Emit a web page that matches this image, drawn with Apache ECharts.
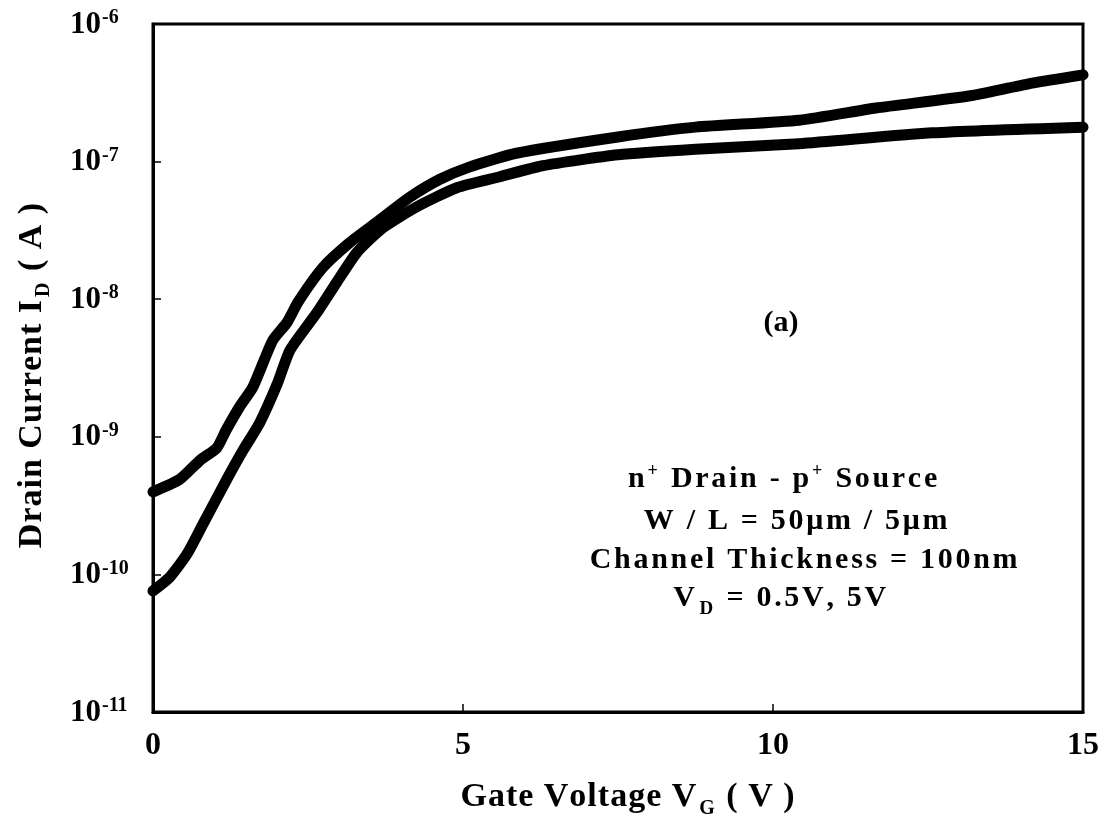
<!DOCTYPE html>
<html>
<head>
<meta charset="utf-8">
<script src="https://cdn.jsdelivr.net/npm/echarts@6/dist/echarts.min.js"></script>
<style>
  html, body { margin: 0; padding: 0; background: #fff; }
  #chart { width: 1108px; height: 821px; }
</style>
</head>
<body>
<div id="chart"></div>
<script>
// gate voltage (V) and drain current (A)
const vgHigh = [0, 0.43, 0.76, 1.03, 1.18, 1.40, 1.61, 1.93, 2.16, 2.34, 2.74, 3.17, 3.61, 4.14, 4.62, 5.10, 5.86, 7.5, 8.75, 10.42, 11.66, 13.21, 14.18, 15]
const idHigh = [3.98e-10, 4.90e-10, 6.76e-10, 8.32e-10, 1.12e-9, 1.66e-9, 2.29e-9, 5.01e-9, 6.76e-9, 9.55e-9, 1.70e-8, 2.57e-8, 3.63e-8, 5.50e-8, 7.41e-8, 9.12e-8, 1.15e-7, 1.51e-7, 1.78e-7, 2.00e-7, 2.45e-7, 3.02e-7, 3.72e-7, 4.27e-7]

const vgLow = [0, 0.27, 0.55, 0.81, 1.19, 1.45, 1.72, 2.0, 2.21, 2.64, 2.96, 3.29, 3.71, 4.25, 4.90, 5.59, 6.28, 7.5, 8.75, 10.42, 12.57, 15]
const idLow = [7.59e-11, 9.55e-11, 1.41e-10, 2.34e-10, 4.90e-10, 7.94e-10, 1.26e-9, 2.40e-9, 4.27e-9, 7.94e-9, 1.32e-8, 2.19e-8, 3.31e-8, 4.68e-8, 6.46e-8, 7.76e-8, 9.33e-8, 1.12e-7, 1.23e-7, 1.35e-7, 1.62e-7, 1.78e-7]

const xTicks = [0, 5, 10, 15]
const yRange = [1e-11, 1e-6]

const FONT = '"Liberation Serif", "Times New Roman", serif'
const pair = (xs, ys) => xs.map((x, i) => [x, ys[i]])
// rich text has no letter-spacing, so every char gets its own token with a bit of padding
const spaced = (s, tok) => s.split('').map((ch) => '{' + tok + '|' + ch + '}').join('')

const chart = echarts.init(document.getElementById('chart'), null, { renderer: 'canvas' })

const curveStyle = {
  type: 'line',
  showSymbol: false,
  clip: false,
  smooth: 0.2,
  lineStyle: { color: '#000', width: 11, cap: 'round', join: 'round' },
  itemStyle: { color: '#000' },
}

const txt = (x, y, text, rich, extra = {}) => ({
  type: 'text',
  x,
  y,
  ...extra,
  style: {
    text,
    fill: '#000',
    fontFamily: FONT,
    fontWeight: 'bold',
    fontSize: 30,
    align: 'center',
    verticalAlign: 'middle',
    rich,
  },
})

const bold = (size, more = {}) => ({ fontFamily: FONT, fontWeight: 'bold', fontSize: size, verticalAlign: 'bottom', ...more })

const titleRich = {
  t: bold(34, { lineHeight: 38, padding: [0, 1, 0, 0] }),
  sub: bold(20, { padding: [0, 2, -5, 2] }),
}
const noteRich = {
  t: bold(30, { lineHeight: 34, padding: [0, 2.7, 0, 0] }),
  sup: bold(18, { padding: [0, 3, 14, 0] }),
  sub: bold(19, { padding: [0, 3, -6, 2] }),
}

chart.setOption({
  backgroundColor: '#fff',
  animation: false,
  grid: {
    left: 153, top: 24, width: 930, height: 688,
    show: true, borderColor: '#000', borderWidth: 3, backgroundColor: 'transparent',
  },
  xAxis: {
    type: 'value',
    min: xTicks[0],
    max: xTicks[xTicks.length - 1],
    interval: 5,
    axisLine: { lineStyle: { color: '#000', width: 3 } },
    axisTick: { inside: true, length: 8, lineStyle: { color: '#000', width: 1.5 } },
    splitLine: { show: false },
    axisLabel: {
      margin: 18,
      color: '#000',
      fontFamily: FONT,
      fontWeight: 'bold',
      fontSize: 32,
    },
  },
  yAxis: {
    type: 'log',
    logBase: 10,
    min: yRange[0],
    max: yRange[1],
    axisLine: { lineStyle: { color: '#000', width: 3 } },
    axisTick: { inside: true, length: 8, lineStyle: { color: '#000', width: 1.5 } },
    splitLine: { show: false },
    minorTick: { show: false },
    axisLabel: {
      align: 'left',
      margin: 83,
      formatter: (v) => '{b|10}{s|' + Math.round(Math.log10(v)) + '}',
      rich: {
        b: { fontFamily: FONT, fontWeight: 'bold', fontSize: 31, color: '#000', lineHeight: 31, verticalAlign: 'bottom' },
        s: { fontFamily: FONT, fontWeight: 'bold', fontSize: 20, color: '#000', padding: [0, 0, 12, 1], verticalAlign: 'bottom' },
      },
    },
  },
  graphic: [
    txt(628, 795, spaced('Gate Voltage V', 't') + '{sub|G}' + spaced(' ( V )', 't'), titleRich),
    txt(30, 375, spaced('Drain Current I', 't') + '{sub|D}' + spaced(' ( A )', 't'), titleRich, { rotation: Math.PI / 2 }),
    txt(781, 323, '(a)', null),
    txt(784, 477, '{t|n}{sup|+}' + spaced(' Drain - p', 't') + '{sup|+}' + spaced(' Source', 't'), noteRich),
    txt(797, 519, spaced('W / L = 50\u03bcm / 5\u03bcm', 't'), noteRich),
    txt(805, 558, spaced('Channel Thickness = 100nm', 't'), noteRich),
    txt(781, 596, '{t|V}{sub|D}' + spaced(' = 0.5V, 5V', 't'), noteRich),
  ],
  series: [
    { ...curveStyle, name: 'VD = 5V', data: pair(vgHigh, idHigh) },
    { ...curveStyle, name: 'VD = 0.5V', data: pair(vgLow, idLow) },
  ],
})
</script>
</body>
</html>
